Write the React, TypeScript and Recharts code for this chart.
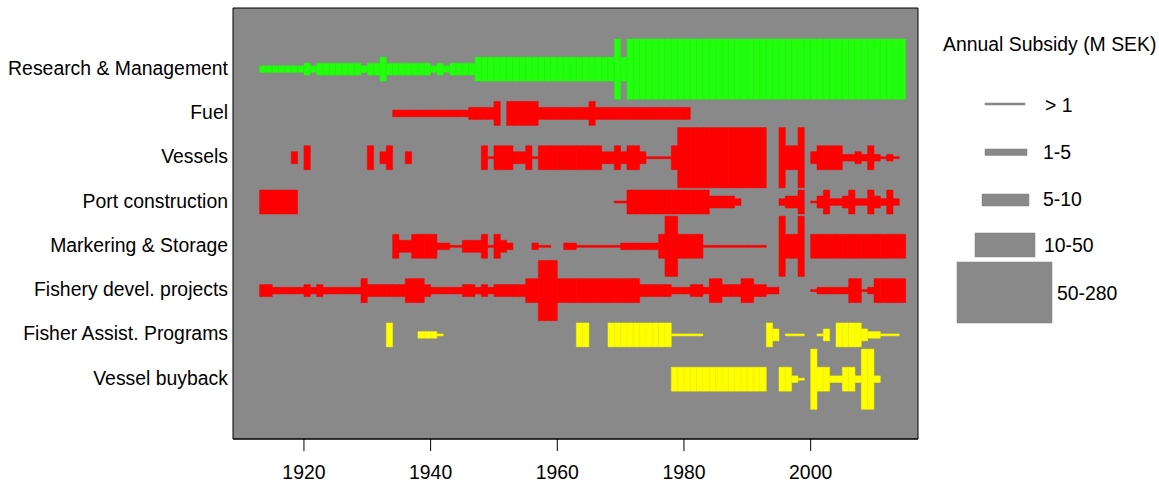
import React from "react";
import { ComposedChart, XAxis, YAxis, ReferenceArea, Scatter } from "recharts";

// [firstYear, lastYear, subsidy level 1..5]
type Run = [number, number, number];

const rowNames = [
  "Vessel buyback",
  "Fisher Assist. Programs",
  "Fishery devel. projects",
  "Markering & Storage",
  "Port construction",
  "Vessels",
  "Fuel",
  "Research & Management",
];

const research: Run[] = [
  [1913, 1919, 2], [1920, 1920, 3], [1921, 1921, 2], [1922, 1928, 3], [1929, 1929, 2],
  [1930, 1931, 3], [1932, 1932, 4], [1933, 1939, 3], [1940, 1940, 2], [1941, 1941, 3],
  [1942, 1942, 2], [1943, 1946, 3], [1947, 1968, 4], [1969, 1969, 5], [1970, 1970, 4],
  [1971, 2014, 5],
];

const fuel: Run[] = [
  [1934, 1945, 2], [1946, 1949, 3], [1950, 1950, 4], [1952, 1956, 4], [1957, 1964, 3],
  [1965, 1965, 4], [1966, 1980, 3],
];

const vessels: Run[] = [
  [1918, 1918, 3], [1920, 1920, 4], [1930, 1930, 4], [1932, 1932, 3], [1933, 1933, 4],
  [1936, 1936, 3], [1948, 1948, 4], [1949, 1949, 1], [1950, 1952, 4], [1953, 1954, 3],
  [1955, 1955, 4], [1956, 1956, 1], [1957, 1966, 4], [1967, 1968, 3], [1969, 1969, 4],
  [1970, 1970, 3], [1971, 1972, 4], [1973, 1973, 3], [1974, 1977, 1], [1978, 1978, 4],
  [1979, 1992, 5], [1995, 1995, 5], [1996, 1997, 4], [1998, 1998, 5], [2000, 2000, 3],
  [2001, 2004, 4], [2005, 2006, 2], [2007, 2007, 3], [2008, 2008, 2], [2009, 2009, 4],
  [2010, 2010, 2], [2011, 2011, 1], [2012, 2012, 2], [2013, 2013, 1],
];

const port: Run[] = [
  [1913, 1918, 4], [1969, 1970, 1], [1971, 1983, 4], [1984, 1987, 3], [1988, 1988, 2],
  [1995, 1995, 2], [1996, 1997, 3], [1998, 1998, 4], [2000, 2000, 1], [2001, 2001, 3],
  [2002, 2002, 4], [2003, 2004, 2], [2005, 2005, 3], [2006, 2006, 4], [2007, 2008, 2],
  [2009, 2009, 4], [2010, 2010, 3], [2011, 2011, 2], [2012, 2012, 4], [2013, 2013, 2],
];

const markering: Run[] = [
  [1934, 1934, 4], [1935, 1936, 3], [1937, 1940, 4], [1941, 1942, 2], [1943, 1944, 1],
  [1945, 1947, 3], [1948, 1948, 4], [1949, 1949, 1], [1950, 1950, 4], [1951, 1951, 3],
  [1952, 1952, 2], [1956, 1956, 2], [1957, 1958, 1], [1961, 1962, 2], [1963, 1969, 1],
  [1970, 1975, 2], [1976, 1976, 4], [1977, 1978, 5], [1979, 1982, 4], [1983, 1992, 1],
  [1995, 1995, 5], [1996, 1997, 4], [1998, 1998, 5], [2000, 2014, 4],
];

const fishery: Run[] = [
  [1913, 1914, 3], [1915, 1919, 2], [1920, 1920, 3], [1921, 1921, 2], [1922, 1922, 3],
  [1923, 1928, 2], [1929, 1929, 4], [1930, 1935, 3], [1936, 1938, 4], [1939, 1939, 3],
  [1940, 1944, 2], [1945, 1946, 3], [1947, 1947, 2], [1948, 1948, 3], [1949, 1949, 2],
  [1950, 1954, 3], [1955, 1956, 4], [1957, 1959, 5], [1960, 1972, 4], [1973, 1977, 3],
  [1978, 1980, 2], [1981, 1982, 3], [1983, 1983, 2], [1984, 1985, 4], [1986, 1988, 3],
  [1989, 1990, 4], [1991, 1992, 3], [1993, 1994, 2], [2000, 2000, 1], [2001, 2005, 2],
  [2006, 2007, 4], [2008, 2008, 1], [2009, 2009, 2], [2010, 2014, 4],
];

const fisherAssist: Run[] = [
  [1933, 1933, 4], [1938, 1940, 2], [1941, 1941, 1], [1963, 1964, 4], [1968, 1977, 4],
  [1978, 1982, 1], [1993, 1993, 4], [1994, 1994, 3], [1996, 1998, 1], [2001, 2001, 1],
  [2002, 2002, 3], [2004, 2007, 4], [2008, 2008, 3], [2009, 2010, 2], [2011, 2013, 1],
];

const buyback: Run[] = [
  [1978, 1992, 4], [1995, 1996, 4], [1997, 1997, 2], [1998, 1998, 1], [2000, 2000, 5],
  [2001, 2002, 4], [2003, 2004, 2], [2005, 2006, 4], [2007, 2007, 2], [2008, 2009, 5],
  [2010, 2010, 2],
];

const legendLabels = ["> 1", "1-5", "5-10", "10-50", "50-280"];
const yearTicks = [1920, 1940, 1960, 1980, 2000];

const FONT = "'Liberation Sans', Arial, Helvetica, sans-serif";
const BG = "#898989";
const GREEN = { fill: "#22ff0c", stroke: "#20f20b" };
const RED = { fill: "#ff0000", stroke: "#f20000" };
const YELLOW = { fill: "#ffff00", stroke: "#f4f400" };

const xDomain: [number, number] = [1908.8, 2016.95];
const yDomain: [number, number] = [-0.35, 9.38];

// bar thickness (in row units) for each subsidy level
const levelHeight = [0, 0.045, 0.15, 0.27, 0.54, 1.36];

const rows = [
  { runs: buyback, ...YELLOW },
  { runs: fisherAssist, ...YELLOW },
  { runs: fishery, ...RED },
  { runs: markering, ...RED },
  { runs: port, ...RED },
  { runs: vessels, ...RED },
  { runs: fuel, ...RED },
  { runs: research, ...GREEN },
];

const cells = rows.flatMap((r, i) =>
  r.runs.flatMap(([a, b, lv]) => {
    const out: { row: number; year: number; level: number; fill: string; stroke: string }[] = [];
    for (let y = a; y <= b; y++) out.push({ row: i + 1, year: y, level: lv, fill: r.fill, stroke: r.stroke });
    return out;
  })
);

const anchors = rowNames.map((_, i) => ({ year: 1913, row: i + 1 }));

// legend boxes: [left, top, width, height] in px
const legendBoxes = [
  [985, 103, 40, 2],
  [985, 149, 42, 6.5],
  [982, 194, 47, 12],
  [975, 233, 60, 24],
  [957, 262, 95, 61],
];
const legendText = [
  [1045, 112],
  [1043, 159],
  [1043, 206],
  [1044, 252],
  [1057, 300],
];

const tickStyle = { fill: "#000", fontSize: 19.4, fontFamily: FONT };

const RowLabel = (props: any) => {
  const { x, y, payload } = props;
  return (
    <text x={x} y={y} dy={-1.5} textAnchor="end" dominantBaseline="central" {...tickStyle}>
      {rowNames[payload.value - 1]}
    </text>
  );
};

export default function App() {
  return (
    <div style={{ position: "relative", width: 1159, height: 486 }}>
      <style>{`body{margin:0;overflow:hidden;}`}</style>
      <ComposedChart
        width={1159}
        height={486}
        data={anchors}
        margin={{ top: 8, right: 241, bottom: 0, left: 0 }}
      >
        <XAxis
          type="number"
          dataKey="year"
          domain={xDomain}
          allowDataOverflow
          ticks={yearTicks}
          interval={0}
          tickSize={12}
          tickMargin={14}
          height={47}
          stroke="#000"
          tick={tickStyle}
        />
        <YAxis
          type="number"
          dataKey="row"
          domain={yDomain}
          allowDataOverflow
          ticks={[1, 2, 3, 4, 5, 6, 7, 8]}
          interval={0}
          width={233}
          tickLine={false}
          axisLine={false}
          tickSize={0}
          tickMargin={5}
          tick={<RowLabel />}
        />
        <ReferenceArea
          x1={xDomain[0]}
          x2={xDomain[1]}
          y1={yDomain[0]}
          y2={yDomain[1]}
          fill={BG}
          fillOpacity={1}
          stroke="#000"
          strokeWidth={1}
          ifOverflow="visible"
        />
        {cells.map((c) => (
          <ReferenceArea
            key={`${c.row}-${c.year}`}
            x1={c.year}
            x2={c.year + 1}
            y1={c.row - levelHeight[c.level] / 2}
            y2={c.row + levelHeight[c.level] / 2}
            fill={c.fill}
            fillOpacity={1}
            stroke={c.stroke}
            strokeWidth={0.5}
            ifOverflow="visible"
          />
        ))}
        <Scatter dataKey="row" isAnimationActive={false} shape={() => <g />} />
      </ComposedChart>
      <svg
        width={1159}
        height={486}
        style={{ position: "absolute", left: 0, top: 0, pointerEvents: "none" }}
      >
        <text x={943} y={51} fontSize={19.4} fontFamily={FONT} fill="#000">
          Annual Subsidy (M SEK)
        </text>
        {legendLabels.map((lab, i) => (
          <g key={lab}>
            <rect
              x={legendBoxes[i][0]}
              y={legendBoxes[i][1]}
              width={legendBoxes[i][2]}
              height={legendBoxes[i][3]}
              fill={BG}
              stroke="#808080"
              strokeWidth={0.5}
            />
            <text x={legendText[i][0]} y={legendText[i][1]} fontSize={19.4} fontFamily={FONT} fill="#000">
              {lab}
            </text>
          </g>
        ))}
      </svg>
    </div>
  );
}
